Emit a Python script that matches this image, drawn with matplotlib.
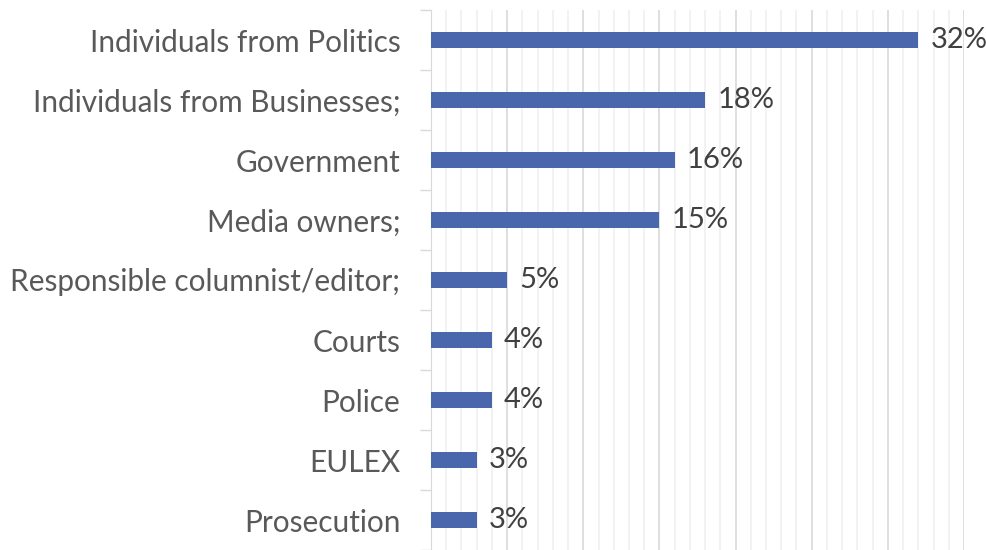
import numpy as np
import matplotlib.pyplot as plt
from matplotlib.ticker import MultipleLocator

categories = ["Individuals from Politics", "Individuals from Businesses;", "Government",
              "Media owners;", "Responsible columnist/editor;", "Courts", "Police",
              "EULEX", "Prosecution"]
values = [32, 18, 16, 15, 5, 4, 4, 3, 3]

plt.rcParams['font.family'] = ['Lato', 'DejaVu Sans']

fig = plt.figure(figsize=(9.87, 5.5), dpi=100)
ax = fig.add_axes([431/987, 0, (964-431)/987, 540/550])

y = np.arange(len(categories))
ax.barh(y, values, height=0.27, color='#4A67AD', zorder=3)
for yi, v in zip(y, values):
    ax.text(v + 0.8, yi, f"{v}%", va='center', ha='left', fontsize=21, color='#404040')

ax.set_xlim(0, 35)
ax.set_ylim(len(categories) - 0.5, -0.5)
ax.xaxis.set_major_locator(MultipleLocator(5))
ax.xaxis.set_minor_locator(MultipleLocator(1))
ax.grid(axis='x', which='major', color='#D9D9D9', lw=1.2, zorder=0)
ax.grid(axis='x', which='minor', color='#F0F0F0', lw=1.2, zorder=0)
ax.tick_params(axis='x', which='both', length=0, labelbottom=False)

ax.set_yticks(y)
ax.set_yticklabels(categories, fontsize=21.4, color='#595959')
ax.set_yticks(np.arange(len(categories) + 1) - 0.5, minor=True)
ax.tick_params(axis='y', which='major', length=0, pad=22)
ax.tick_params(axis='y', which='minor', length=8, color='#D9D9D9', width=1)

for s in ['top', 'right', 'bottom']:
    ax.spines[s].set_visible(False)
ax.spines['left'].set_color('#D9D9D9')

fig.savefig('out.png', dpi=100)
